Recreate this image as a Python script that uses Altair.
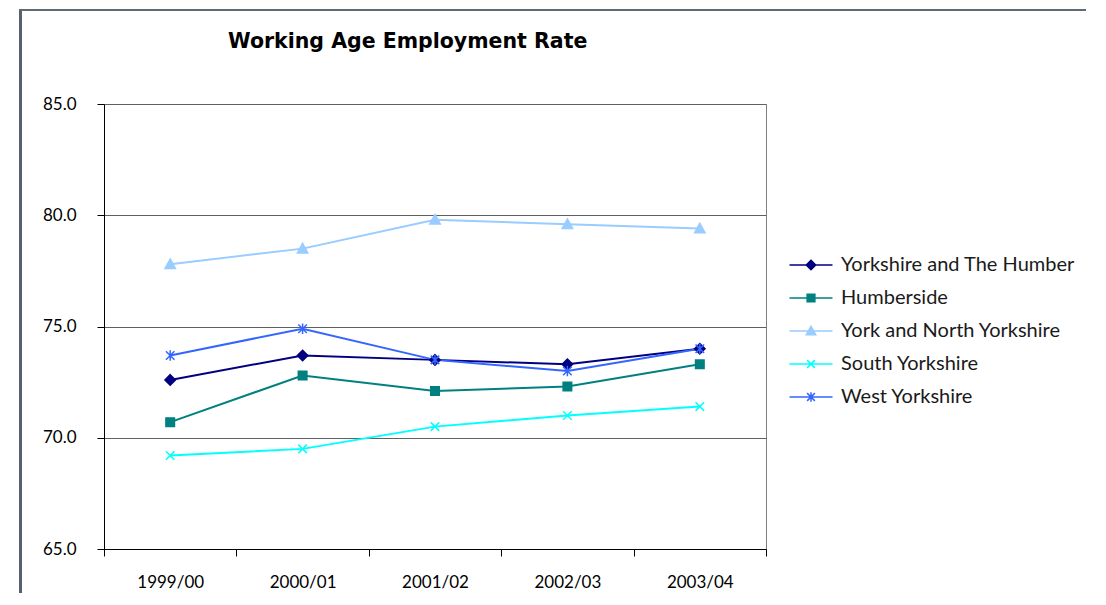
import altair as alt
import pandas as pd

years = ["1999/00", "2000/01", "2001/02", "2002/03", "2003/04"]
series_names = ["Yorkshire and The Humber", "Humberside", "York and North Yorkshire",
                "South Yorkshire", "West Yorkshire"]
yth = [72.6, 73.7, 73.5, 73.3, 74.0]
humberside = [70.7, 72.8, 72.1, 72.3, 73.3]
york_north = [77.8, 78.5, 79.8, 79.6, 79.4]
south = [69.2, 69.5, 70.5, 71.0, 71.4]
west = [73.7, 74.9, 73.5, 73.0, 74.0]
colors = ["#000080", "#008080", "#99CCFF", "#00FFFF", "#3366FF"]
title_text = "Working Age Employment Rate"

values = [yth, humberside, york_north, south, west]
rows = []
for name, vals in zip(series_names, values):
    for yr, v in zip(years, vals):
        rows.append({"series": name, "year": yr, "rate": v})
df = pd.DataFrame(rows)

marker_paths = [
    "M0,-1.1L1.1,0L0,1.1L-1.1,0Z",
    "M-0.9,-0.9H0.9V0.9H-0.9Z",
    "M0,-1.1L1.1,0.9H-1.1Z",
    "M-0.9,-0.9L0.9,0.9M-0.9,0.9L0.9,-0.9",
    "M-0.9,-0.9L0.9,0.9M-0.9,0.9L0.9,-0.9M0,-1.1V1.1",
]
legend_paths = [
    "M-2.5,0H2.5M0,-0.55L0.55,0L0,0.55L-0.55,0Z",
    "M-2.5,0H2.5M-0.45,-0.45H0.45V0.45H-0.45Z",
    "M-2.5,0H2.5M0,-0.55L0.55,0.45H-0.55Z",
    "M-2.5,0H2.5M-0.45,-0.45L0.45,0.45M-0.45,0.45L0.45,-0.45",
    "M-2.5,0H2.5M-0.45,-0.45L0.45,0.45M-0.45,0.45L0.45,-0.45M0,-0.55V0.55",
]

cscale = alt.Scale(domain=series_names, range=colors)
x_enc = alt.X("year:N", sort=years, title=None,
              scale=alt.Scale(paddingInner=0, paddingOuter=0),
              axis=alt.Axis(labelAngle=0, tickBand="extent", grid=False,
                            domainColor="#000000", tickColor="#000000",
                            tickSize=7, labelPadding=18, labelFont="Lato",
                            labelFontSize=17, labelColor="#000000"))
y_enc = alt.Y("rate:Q", title=None,
              scale=alt.Scale(domain=[65, 85], nice=False, zero=False),
              axis=alt.Axis(values=[65, 70, 75, 80, 85], format=".1f",
                            grid=True, gridColor="#606060", gridWidth=1,
                            domainColor="#000000", tickColor="#000000",
                            tickSize=7, labelPadding=21, labelFont="Lato",
                            labelFontSize=17, labelColor="#000000"))

base = alt.Chart(df)

lines = base.mark_line(strokeWidth=2).encode(
    x=x_enc, y=y_enc,
    color=alt.Color("series:N", scale=cscale, legend=None),
    detail="series:N",
)

points = base.mark_point(filled=True, size=90, strokeWidth=1.5, opacity=1).encode(
    x=x_enc, y=y_enc,
    color=alt.Color("series:N", scale=cscale, legend=None),
    stroke=alt.Stroke("series:N", scale=cscale, legend=None),
    shape=alt.Shape("series:N", scale=alt.Scale(domain=series_names, range=marker_paths), legend=None),
)

legend_layer = alt.Chart(df).transform_filter("false").transform_calculate(
    Legend="datum.series"
).mark_point(filled=True, opacity=1, strokeWidth=1.5).encode(
    x=x_enc, y=y_enc,
    color=alt.Color("Legend:N", scale=alt.Scale(domain=series_names, range=colors),
                    legend=alt.Legend(title=None, orient="none", legendX=697, legendY=151,
                                      symbolSize=296, symbolStrokeWidth=1.5,
                                      labelFont="Lato", labelFontSize=20,
                                      labelColor="#1a1a1a", labelOffset=20,
                                      labelLimit=0, rowPadding=13)),
    stroke=alt.Stroke("Legend:N", scale=alt.Scale(domain=series_names, range=colors)),
    shape=alt.Shape("Legend:N", scale=alt.Scale(domain=series_names, range=legend_paths)),
)

one = alt.Data(values=[{"t": title_text}])
border_left = alt.Chart(one).mark_rect(fill="#56616e").encode(
    x=alt.value(-85), x2=alt.value(-82), y=alt.value(-95), y2=alt.value(540))
border_top = alt.Chart(one).mark_rect(fill="#5f6a77").encode(
    x=alt.value(-85), x2=alt.value(1000), y=alt.value(-95), y2=alt.value(-93))

title = alt.Chart(one).mark_text(
    align="left", baseline="middle", font="DejaVu Sans", fontWeight="bold",
    fontSize=20.5, color="#000000"
).encode(text="t:N", x=alt.value(124), y=alt.value(-62))

chart = alt.layer(border_left, border_top, title, lines, points, legend_layer).resolve_scale(
    color="independent", stroke="independent", shape="independent"
).properties(
    width=662, height=445,
    autosize=alt.AutoSizeParams(type="none"),
    padding={"left": 96, "top": 96, "right": 320, "bottom": 44},
).configure_view(stroke="#808080", strokeWidth=1)

chart.save("out.html", embed_options={"renderer": "svg", "actions": False})
